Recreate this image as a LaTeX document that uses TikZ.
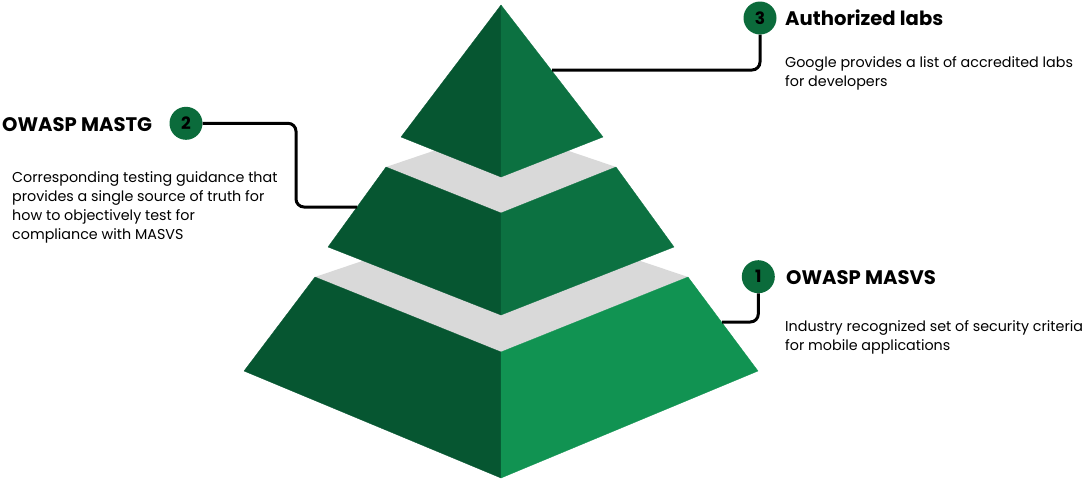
\documentclass[tikz,border=0pt]{standalone}
\usepackage{fontspec}
\setmainfont{Poppins}
\definecolor{gdark}{HTML}{065631}
\definecolor{gmid}{HTML}{0C7141}
\definecolor{glight}{HTML}{119352}
\definecolor{gband}{HTML}{D9D9D9}
\definecolor{gbadge}{HTML}{0B6B3B}
\begin{document}
\begin{tikzpicture}[x=1pt,y=-1pt,
  face/.style={line width=0.3pt,line join=round},
  badge/.style={circle,fill=gbadge,minimum size=33pt,inner sep=0pt,
    font=\fontsize{17}{20}\selectfont\bfseries,text=black},
  conn/.style={line width=3pt,draw=black,rounded corners=8pt},
  head/.style={anchor=base west,inner sep=0pt,font=\fontsize{19.6}{24}\selectfont\bfseries},
  body/.style={anchor=base west,inner sep=0pt,align=left,font=\fontsize{14.3}{19}\selectfont}]
\useasboundingbox (0,0) rectangle (1091,479);
% bottom tier
\fill[gband,face] (315,277) -- (501,214) -- (688,277) -- (501,352) -- cycle;
\filldraw[gdark,face] (315,277) -- (501,352) -- (501,478) -- (244,371) -- cycle;
\filldraw[glight,face] (501,352) -- (688,277) -- (758,371) -- (501,478) -- cycle;
% middle tier
\fill[gband,face] (386,167) -- (501,128) -- (616,167) -- (501,213) -- cycle;
\filldraw[gdark,face] (386,167) -- (501,213) -- (501,315) -- (328,247) -- cycle;
\filldraw[gmid,face] (501,213) -- (616,167) -- (674,247) -- (501,315) -- cycle;
% top
\filldraw[gdark,face] (501,5) -- (401,137) -- (501,177) -- cycle;
\filldraw[gmid,face] (501,5) -- (603,137) -- (501,177) -- cycle;
% edge anchor points
\coordinate (e3) at (552,70);
\coordinate (e2) at (357,207);
\coordinate (k2) at (296,207);
\coordinate (e1) at (722,322);
% badges
\node[badge] (b3) at (760,18) {3};
\node[badge] (b2) at (186,123.3) {2};
\node[badge] (b1) at (758.3,276.7) {1};
% connectors
\draw[conn] (e3) -| (b3.south);
\draw[conn] (b2.east) -| (k2) -- (e2);
\draw[conn] (b1.south) |- (e1);
% texts (base anchor = last line's baseline)
\node[head] (h3) at (785,25.3) {Authorized labs};
\node[body] (t3) at (785,86) {Google provides a list of accredited labs\\for developers};
\node[head] (h2) at (2,131) {OWASP MASTG};
\node[body] (t2) at (12,239) {Corresponding testing guidance that\\provides a single source of truth for\\how to objectively test for\\compliance with MASVS};
\node[head] (h1) at (786,284.5) {OWASP MASVS};
\node[body] (t1) at (785,350) {Industry recognized set of security criteria\\for mobile applications};
\end{tikzpicture}
\end{document}
